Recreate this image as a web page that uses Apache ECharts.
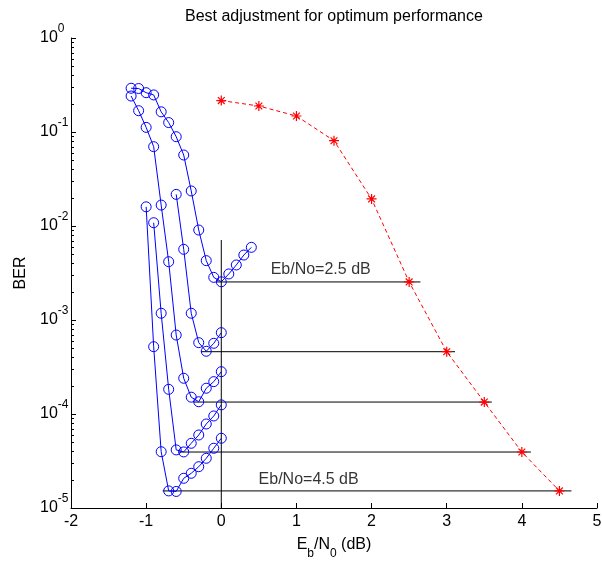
<!DOCTYPE html>
<html>
<head>
<meta charset="utf-8">
<title>BER chart</title>
<script src="https://cdn.jsdelivr.net/npm/echarts@6/dist/echarts.min.js"></script>
<style>
  html, body { margin: 0; padding: 0; background: #fff; }
  #chart { width: 602px; height: 563px; }
</style>
</head>
<body>
<div id="chart"></div>
<script>
// 字体 / 常量
const FONT = '"Liberation Sans", Arial, sans-serif';

// 坐标轴刻度
const xMin = -2;
const xMax = 5;
const yDecades = [-5, -4, -3, -2, -1, 0];
const minorSteps = [2, 3, 4, 5, 6, 7, 8, 9];

// 蓝色曲线 (BER vs 调整量)
const curveAx = [-1.2, -1.1, -1.0, -0.9, -0.8, -0.7, -0.6, -0.5, -0.4, -0.3, -0.2, -0.1, 0, 0.1, 0.2, 0.3, 0.4];
const curveAy = [0.292, 0.290, 0.262, 0.248, 0.164, 0.126, 0.0891, 0.0569, 0.0236, 0.00906, 0.00428, 0.00284, 0.00255, 0.00309, 0.00385, 0.00491, 0.00593];

const curveBx = [-1.2, -1.1, -1.0, -0.9, -0.8, -0.7, -0.6, -0.5, -0.4, -0.3, -0.2, -0.1, 0];
const curveBy = [0.2415, 0.1685, 0.112, 0.0698, 0.0167, 0.00417, 6.92e-4, 2.40e-4, 1.51e-4, 1.35e-4, 1.88e-4, 2.21e-4, 2.82e-4];

const curveCx = [-0.6, -0.5, -0.4, -0.3, -0.2, -0.1, 0];
const curveCy = [0.0217, 0.00565, 0.00118, 5.74e-4, 4.65e-4, 5.65e-4, 7.33e-4];

const curveDx = [-0.9, -0.8, -0.7, -0.6, -0.5, -0.4, -0.3, -0.2, -0.1, 0];
const curveDy = [0.01084, 0.00118, 1.83e-4, 4.15e-5, 3.95e-5, 4.88e-5, 5.98e-5, 7.83e-5, 9.53e-5, 1.25e-4];

const curveEx = [-1.0, -0.9, -0.8, -0.7, -0.6, -0.5, -0.4, -0.3, -0.2, -0.1, 0];
const curveEy = [0.0160, 5.2e-4, 3.97e-5, 1.52e-5, 1.5e-5, 2.07e-5, 2.34e-5, 2.75e-5, 3.38e-5, 4.32e-5, 5.52e-5];

// 红色虚线 (最优 BER)
const redX = [0, 0.5, 1, 1.5, 2, 2.5, 3, 3.5, 4, 4.5];
const redY = [0.216, 0.189, 0.148, 0.0808, 0.0194, 2.54e-3, 4.6e-4, 1.34e-4, 3.94e-5, 1.52e-5];

// 黑色水平线
const hLineY = [2.54e-3, 4.6e-4, 1.34e-4, 3.94e-5, 1.52e-5];
const hLineX0 = [-0.07, -0.27, -0.37, -0.57, -0.78];
const hLineX1 = [2.65, 3.11, 3.6, 4.12, 4.66];

// 竖线 x=0
const vLineX = [0, 0];
const vLineY = [1e-5, 7.1e-3];

// 文字标注
const annText = ['Eb/No=2.5 dB', 'Eb/No=4.5 dB'];
const annX = [0.65, 0.49];
const annY = [3.4e-3, 2.0e-5];

const majorTicks = yDecades.map((e) => Number('1e' + e));
const minorTicks = [];
yDecades.slice(0, -1).forEach((e) => {
  minorSteps.forEach((k) => minorTicks.push(Number(k + 'e' + e)));
});

function pairs(xs, ys) {
  return xs.map((x, i) => [x, ys[i]]);
}

const starPath = 'path://M5 0L5 10M0 5L10 5M1.6 1.6L8.4 8.4M1.6 8.4L8.4 1.6';

const blueCurves = [
  [curveAx, curveAy],
  [curveBx, curveBy],
  [curveCx, curveCy],
  [curveDx, curveDy],
  [curveEx, curveEy],
];

const series = [];

// 黑线
hLineY.forEach((y, i) => {
  series.push({
    type: 'line',
    data: [[hLineX0[i], y], [hLineX1[i], y]],
    symbol: 'none',
    silent: true,
    lineStyle: { color: '#000', width: 1 },
    z: 2,
  });
});
series.push({
  type: 'line',
  data: pairs(vLineX, vLineY),
  symbol: 'none',
  silent: true,
  lineStyle: { color: '#000', width: 1 },
  z: 2,
});

// 蓝色曲线
blueCurves.forEach(([xs, ys]) => {
  series.push({
    type: 'line',
    data: pairs(xs, ys),
    symbol: 'circle',
    symbolSize: 10,
    silent: true,
    lineStyle: { color: '#0000ff', width: 1 },
    itemStyle: { color: 'rgba(0,0,0,0)', borderColor: '#0000ff', borderWidth: 1 },
    z: 3,
  });
});

// 红色虚线
series.push({
  type: 'line',
  data: pairs(redX, redY),
  symbol: starPath,
  symbolSize: 10,
  silent: true,
  lineStyle: { color: '#ff0000', width: 1, type: [4, 3] },
  itemStyle: { color: '#ff0000', borderColor: '#ff0000', borderWidth: 1.2 },
  z: 4,
});

// 文字
series.push({
  type: 'scatter',
  data: pairs(annX, annY),
  symbolSize: 1,
  silent: true,
  itemStyle: { color: 'rgba(0,0,0,0)' },
  label: {
    show: true,
    position: 'right',
    distance: 0,
    formatter: (p) => annText[p.dataIndex],
    fontFamily: FONT,
    fontSize: 16,
    color: '#000',
  },
  z: 5,
});

const option = {
  animation: false,
  backgroundColor: '#fff',
  title: {
    text: 'Best adjustment for optimum performance',
    left: 185,
    top: 9,
    padding: 0,
    textStyle: { fontFamily: FONT, fontSize: 16, fontWeight: 'normal', color: '#000' },
  },
  grid: { left: 71, right: 5, top: 38, bottom: 55, outerBoundsMode: 'none' },
  xAxis: {
    type: 'value',
    min: xMin,
    max: xMax,
    interval: 1,
    axisLine: { onZero: false, lineStyle: { color: '#000', width: 1 } },
    axisTick: { show: true, inside: true, length: 5, lineStyle: { color: '#000', width: 1 } },
    axisLabel: { margin: 6, fontFamily: FONT, fontSize: 16, color: '#000' },
    splitLine: { show: false },
    name: '{a|E}{b|b}{a|/N}{b|0}{a| (dB)}',
    nameLocation: 'middle',
    nameGap: 29,
    nameTextStyle: {
      rich: {
        a: { fontFamily: FONT, fontSize: 16, lineHeight: 16, verticalAlign: 'top', color: '#000' },
        b: { fontFamily: FONT, fontSize: 12, lineHeight: 23, verticalAlign: 'bottom', color: '#000' },
      },
    },
  },
  yAxis: {
    type: 'log',
    logBase: 10,
    min: 1e-5,
    max: 1,
    position: 'left',
    axisLine: { show: true, onZero: false, lineStyle: { color: '#000', width: 1 } },
    axisTick: { show: true, inside: true, length: 5, lineStyle: { color: '#000', width: 1 } },
    axisLabel: {
      customValues: majorTicks,
      margin: 31,
      align: 'left',
      formatter: (v) => '{b|10}{s|' + Math.round(Math.log10(v)) + '}',
      rich: {
        b: { fontFamily: FONT, fontSize: 16, lineHeight: 30, verticalAlign: 'middle', color: '#000' },
        s: { fontFamily: FONT, fontSize: 12, lineHeight: 12, verticalAlign: 'top', color: '#000' },
      },
    },
    splitLine: { show: false },
    name: 'BER',
    nameLocation: 'middle',
    nameGap: 42,
    nameTextStyle: { fontFamily: FONT, fontSize: 16, color: '#000' },
  },
  series: series,
};

const myChart = echarts.init(document.getElementById('chart'));
myChart.setOption(option);

// 对数轴次刻度 (2..9), 用坐标转换画在轴内侧
const tickEls = minorTicks.map((v) => {
  const p = myChart.convertToPixel({ gridIndex: 0 }, [xMin, v]);
  const y = Math.round(p[1]) + 0.5;
  return {
    type: 'line',
    silent: true,
    z: 100,
    shape: { x1: p[0], y1: y, x2: p[0] + 3, y2: y },
    style: { stroke: '#000', lineWidth: 1 },
  };
});
myChart.setOption({ graphic: tickEls });
</script>
</body>
</html>
